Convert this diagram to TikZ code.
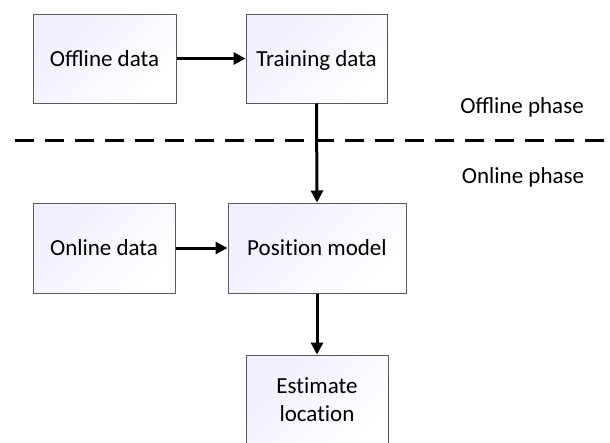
\documentclass[tikz,border=0pt]{standalone}
\usepackage{fontspec}
\setmainfont{Carlito}
\usetikzlibrary{arrows.meta}

% keep "t" and "i" as separate letters (Carlito would join them)
\newcommand{\tisep}{\kern0pt }

\tikzset{
  block/.style={draw=black!65, line width=1pt, rectangle, inner sep=0pt,
    shading=axis, top color=blue!6!white, bottom color=white, shading angle=45,
    align=center, font=\fontsize{23}{28}\selectfont},
  oneline/.style={text height=18pt, text depth=3pt},
  flow/.style={line width=3pt, -{Triangle[length=12pt,width=12pt]}},
  phase/.style={font=\fontsize{23}{28}\selectfont},
  divider/.style={line width=3pt, dash pattern=on 19pt off 11pt}
}

\begin{document}
\begin{tikzpicture}[x=1pt,y=-1pt]
  \useasboundingbox (0,0) rectangle (610,442);
  \begin{scope}
    \clip (0,0) rectangle (610,442);

    % phase divider
    \coordinate (dl) at (15,140);
    \coordinate (dr) at (620,140);
    \draw[divider] (dl) -- (dr);

    % offline part
    \node[block, oneline, minimum width=143pt, minimum height=89pt] (off) at (104.5,58.5) {Offline data};
    \node[block, oneline, minimum width=141pt, minimum height=89pt] (train) at (316.5,58.5) {Training data};

    % online part
    \node[block, oneline, minimum width=142pt, minimum height=90pt] (on) at (104,248) {Online data};
    \node[block, oneline, minimum width=178pt, minimum height=90pt] (pos) at (317,248) {Posit\tisep ion model};
    \node[block, minimum width=142pt, minimum height=90pt] (est) at (317,400) {Est\tisep imate\\locat\tisep ion};

    % phase labels
    \node[phase] (offph) at (522,107) {Offline phase};
    \node[phase] (onph) at (523,177) {Online phase};

    % connectors
    \draw[flow] (off.east) -- (train.west);
    \draw[flow] (train.south) -- (pos.north);
    \draw[flow] (on.east) -- (pos.west);
    \draw[flow] (pos.south) -- (est.north);
  \end{scope}
\end{tikzpicture}
\end{document}
